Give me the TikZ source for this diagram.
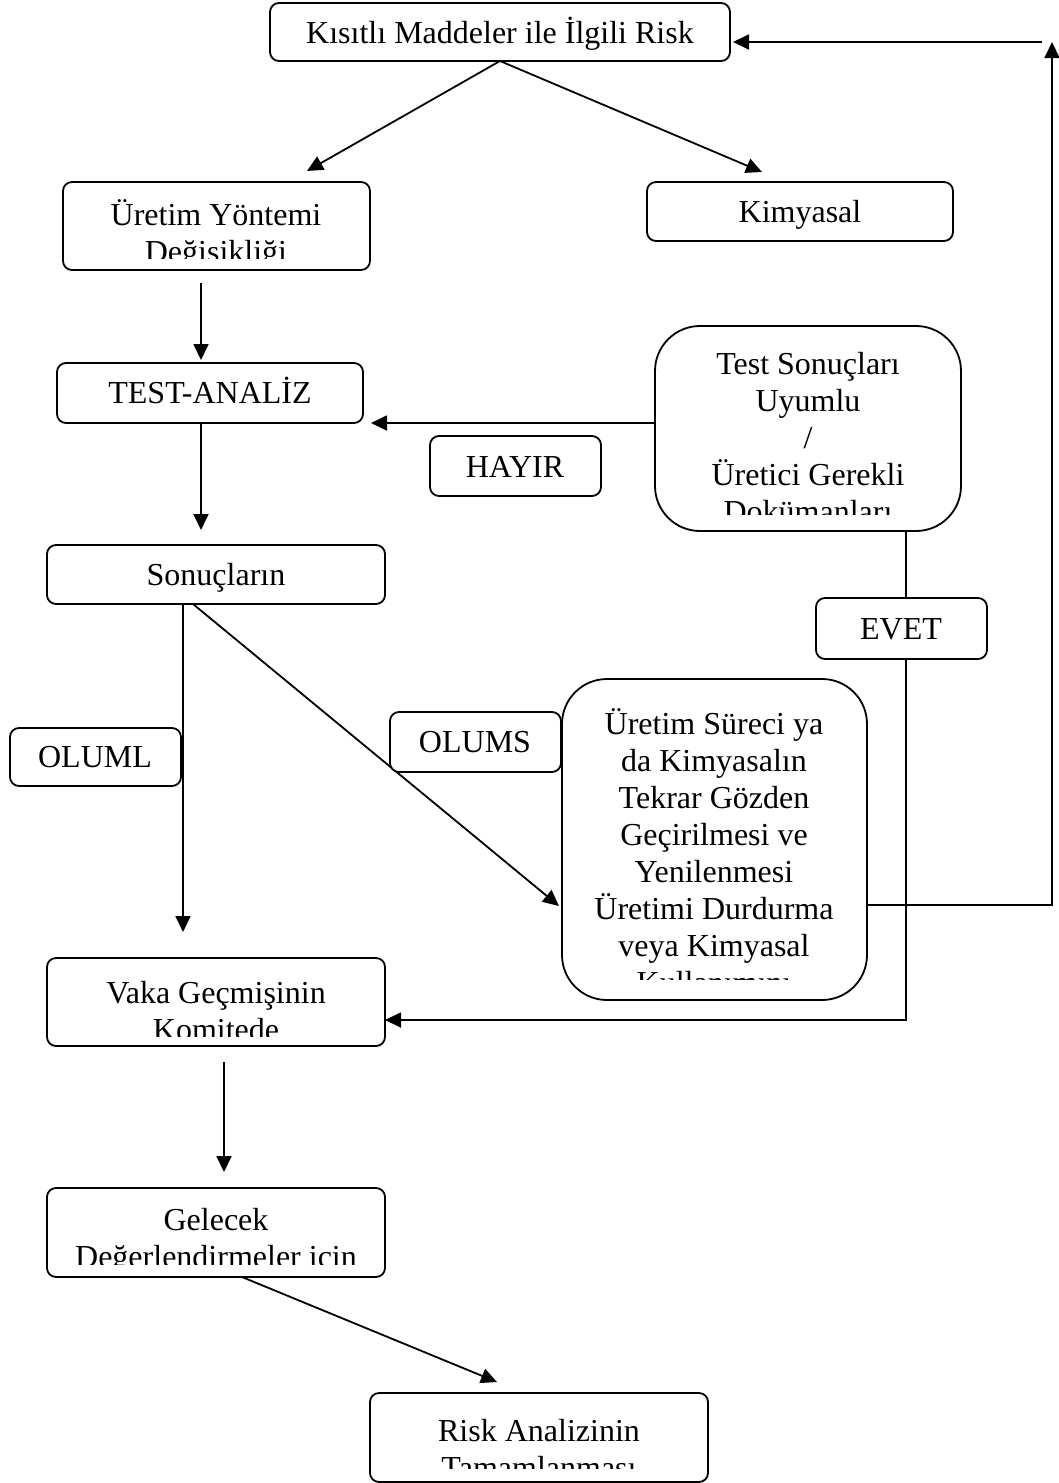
\documentclass[tikz,border=0pt]{standalone}
\usepackage{fontspec}
\setmainfont{Liberation Serif}
\usetikzlibrary{arrows.meta,backgrounds}
\newcommand\mybox[6]{\node[#2, minimum width={(#5-#3)*1pt}, minimum height={(#6-#4)*1pt}] (#1) at ({(#3+#5)/2},{(#4+#6)/2}) {};}
\begin{document}
\begin{tikzpicture}[x=1pt,y=-1pt,
  box/.style={draw, line width=1.8pt, rounded corners=9pt, fill=white, inner sep=0pt, outer sep=0pt},
  bigbox/.style={box, rounded corners=45pt},
  txt/.style={font=\fontsize{32}{37}\selectfont, align=center, inner sep=0pt, anchor=base},
  arr/.style={line width=1.8pt, -{Triangle[length=16pt,width=15pt]}},
  ln/.style={line width=1.8pt}]
\useasboundingbox (0,0) rectangle (1059,1483);

% coordinates for free connector ends
\coordinate (c1) at (307,171);
\coordinate (c2) at (762,172);
\coordinate (c3s) at (201,283);
\coordinate (c3) at (201,360);
\coordinate (c4s) at (201,423);
\coordinate (c4) at (201,530);
\coordinate (c5) at (183,932);
\coordinate (c6) at (559,906);
\coordinate (c7) at (1052,42);
\coordinate (c8s) at (1042,42);
\coordinate (c8) at (733,42);
\coordinate (c9) at (371,423);
\coordinate (c10s) at (224,1062);
\coordinate (c10) at (224,1172);
\coordinate (c11) at (497,1382);

% boxes (geometry)
\mybox{k}{box}{270}{3}{730}{61}
\mybox{ure}{box}{63}{182}{370}{270}
\mybox{kim}{box}{647}{182}{953}{241}
\mybox{tan}{box}{57}{363}{363}{423}
\mybox{tsu}{bigbox}{655}{326}{961}{531}
\mybox{hay}{box}{430}{436}{601}{496}
\mybox{son}{box}{47}{545}{385}{604}
\mybox{evet}{box}{816}{598}{987}{659}
\mybox{oluml}{box}{10}{728}{181}{786}
\mybox{olums}{box}{390}{712}{561}{772}
\mybox{big}{bigbox}{562}{679}{867}{1000}
\mybox{vaka}{box}{47}{958}{385}{1046}
\mybox{gel}{box}{47}{1188}{385}{1277}
\mybox{risk}{box}{370}{1393}{708}{1482}

% connectors (beneath the boxes)
\begin{pgfonlayer}{background}
\draw[arr] (k.south) -- (c1);
\draw[arr] (k.south) -- (c2);
\draw[arr] (c3s) -- (c3);
\draw[arr] (c4s) -- (c4);
\draw[arr] (son.south -| 183,0) -- (c5);
\draw[arr] (son.south -| 193,0) -- (c6);
\draw[arr] (big.east |- 0,905) -- (1052,905) -- (c7);
\draw[arr] (c8s) -- (c8);
\draw[arr] (tsu.west |- 0,423) -- (c9);
\draw[arr] (tsu.south -| 906,0) -- (906,1020) -- (vaka.east |- 0,1020);
\draw[arr] (c10s) -- (c10);
\draw[arr] (gel.south -| 242,0) -- (c11);
\end{pgfonlayer}

% texts (multi-line nodes are placed by the baseline of their last line)
\node[txt] (tk) at (500,43) {Kısıtlı Maddeler ile İlgili Risk};
\node[txt] (tkim) at (800,222) {Kimyasal};
\node[txt] (ttan) at (210,403) {TEST-ANALİZ};
\node[txt] (thay) at (515,477) {HAYIR};
\node[txt] (tson) at (216,585) {Sonuçların};
\node[txt] (tevet) at (901,639) {EVET};
\node[txt] (toluml) at (95,767) {OLUML};
\node[txt] (tolums) at (475,752) {OLUMS};

\begin{scope}
\clip (63,182) rectangle (370,258);
\node[txt] (ture) at (216,262) {Üretim Yöntemi\\Değişikliği};
\end{scope}
\begin{scope}
\clip (655,326) rectangle (961,514);
\node[txt] (ttsu) at (808,522) {Test Sonuçları\\Uyumlu\\/\\Üretici Gerekli\\Dokümanları};
\end{scope}
\begin{scope}
\clip (562,679) rectangle (867,979);
\node[txt] (tbig) at (714,993) {Üretim Süreci ya\\da Kimyasalın\\Tekrar Gözden\\Geçirilmesi ve\\Yenilenmesi\\Üretimi Durdurma\\veya Kimyasal\\Kullanımını};
\end{scope}
\begin{scope}
\clip (47,958) rectangle (385,1036);
\node[txt] (tvaka) at (216,1040) {Vaka Geçmişinin\\Komitede};
\end{scope}
\begin{scope}
\clip (47,1188) rectangle (385,1264);
\node[txt] (tgel) at (216,1267) {Gelecek\\Değerlendirmeler için};
\end{scope}
\begin{scope}
\clip (370,1393) rectangle (708,1468);
\node[txt] (trisk) at (539,1478) {Risk Analizinin\\Tamamlanması};
\end{scope}
\end{tikzpicture}
\end{document}
